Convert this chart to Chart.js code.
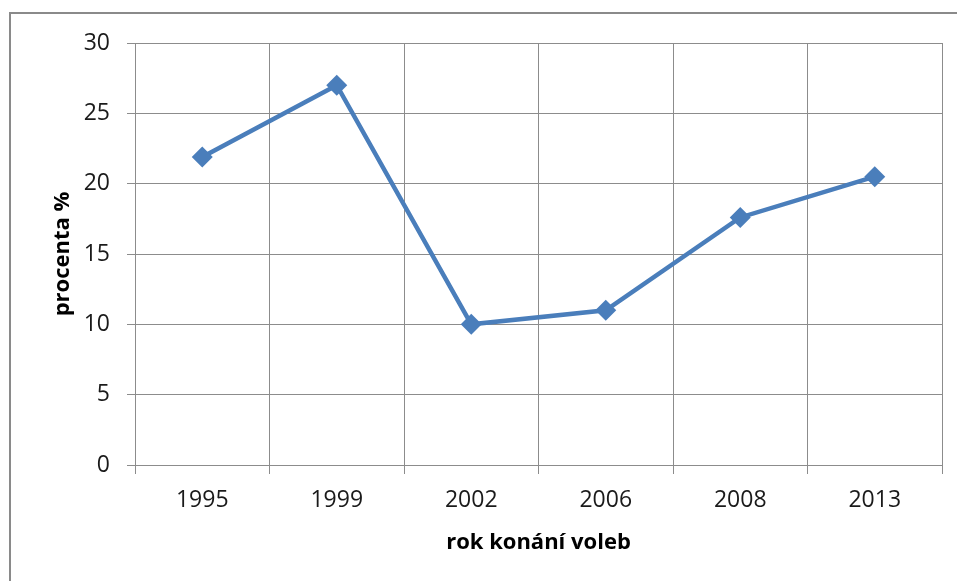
<!DOCTYPE html>
<html>
<head>
<meta charset="utf-8">
<script src="https://cdn.jsdelivr.net/npm/chart.js@4"></script>
<style>
  html, body { margin: 0; padding: 0; background: #fff; }
  #frame { position: absolute; left: 9px; top: 12px; width: 960px; height: 580px;
           border-left: 2px solid #8a8a8a; border-top: 2px solid #8a8a8a; }
  #wrap { position: absolute; left: 0; top: 0; width: 957px; height: 581px; }
</style>
</head>
<body>
<div id="frame"></div>
<div id="wrap"><canvas id="graf"></canvas></div>
<script>
// rok konání voleb / procenta
const roky = ["1995", "1999", "2002", "2006", "2008", "2013"];
const procenta = [21.9, 27.0, 10.0, 11.0, 17.6, 20.5];

const barva = "#4a7ebb";
const mrizka = "#8c8c8c";
const pismo = "Open Sans";

new Chart(document.getElementById("graf"), {
  type: "line",
  data: {
    labels: roky,
    datasets: [{
      label: "procenta",
      data: procenta,
      borderColor: barva,
      backgroundColor: barva,
      borderWidth: 4.5,
      pointStyle: "rectRot",
      pointRadius: 10.5,
      pointBorderWidth: 0,
      tension: 0,
      fill: false
    }]
  },
  options: {
    responsive: true,
    maintainAspectRatio: false,
    animation: false,
    layout: { padding: { left: 0, top: 43, right: 15, bottom: 0 } },
    plugins: { legend: { display: false }, tooltip: { enabled: false } },
    scales: {
      x: {
        offset: true,
        grid: { offset: true, color: mrizka, lineWidth: 1, tickLength: 9 },
        border: { color: mrizka },
        ticks: { color: "#1a1a1a", font: { family: pismo, size: 23 }, padding: 13, maxRotation: 0 },
        title: { display: true, text: "rok konání voleb", color: "#000",
                 font: { family: pismo, size: 22, weight: "bold" }, padding: { top: 0, bottom: 25 } },
        afterFit: s => { s.height = 116; }
      },
      y: {
        min: 0, max: 30,
        ticks: { stepSize: 5, color: "#1a1a1a", font: { family: pismo, size: 23 }, padding: 17 },
        grid: { color: mrizka, lineWidth: 1, tickLength: 8 },
        border: { color: mrizka },
        title: { display: true, text: "procenta %", color: "#000",
                 font: { family: pismo, size: 22, weight: "bold" }, padding: { top: 50, bottom: 0 } },
        afterFit: s => { s.width = 135; }
      }
    }
  }
});
</script>
</body>
</html>
